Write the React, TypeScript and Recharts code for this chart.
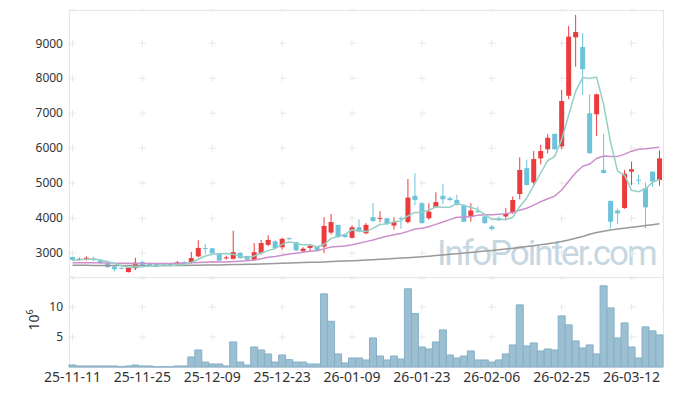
import React from "react";
import { ComposedChart, BarChart, Bar, Line, XAxis, YAxis, CartesianGrid } from "recharts";

const dates = [
  "25-11-11", "25-11-12", "25-11-13", "25-11-14", "25-11-17", "25-11-18", "25-11-19", "25-11-20", "25-11-21", "25-11-24",
  "25-11-25", "25-11-26", "25-11-27", "25-11-28", "25-12-01", "25-12-02", "25-12-03", "25-12-04", "25-12-05", "25-12-08",
  "25-12-09", "25-12-10", "25-12-11", "25-12-12", "25-12-15", "25-12-16", "25-12-17", "25-12-18", "25-12-19", "25-12-22",
  "25-12-23", "25-12-24", "25-12-26", "25-12-29", "25-12-30", "26-01-02", "26-01-05", "26-01-06", "26-01-07", "26-01-08",
  "26-01-09", "26-01-12", "26-01-13", "26-01-14", "26-01-15", "26-01-16", "26-01-19", "26-01-20", "26-01-21", "26-01-22",
  "26-01-23", "26-01-26", "26-01-27", "26-01-28", "26-01-29", "26-01-30", "26-02-02", "26-02-03", "26-02-04", "26-02-05",
  "26-02-06", "26-02-09", "26-02-10", "26-02-11", "26-02-12", "26-02-13", "26-02-19", "26-02-20", "26-02-23", "26-02-24",
  "26-02-25", "26-02-26", "26-02-27", "26-03-03", "26-03-04", "26-03-05", "26-03-06", "26-03-09", "26-03-10", "26-03-11",
  "26-03-12", "26-03-13", "26-03-16", "26-03-17", "26-03-18",
];

const opens = [
  2890, 2820, 2820, 2850, 2800, 2720, 2620, 2580, 2460, 2570,
  2750, 2710, 2690, 2680, 2690, 2680, 2740, 2740, 2910, 3150,
  3140, 3000, 2850, 2840, 3010, 2920, 2810, 3000, 3240, 3340,
  3170, 3430, 3320, 3060, 3150, 3200, 3190, 3590, 3810, 3540,
  3440, 3740, 3570, 4030, 3990, 4000, 3790, 4010, 3890, 4640,
  4430, 4000, 4310, 4640, 4570, 4520, 4380, 4030, 4200, 4050,
  3760, 4000, 4050, 4170, 4690, 5430, 5020, 5710, 5970, 6410,
  6050, 7500, 9170, 8890, 7000, 6970, 5380, 4490, 4220, 4290,
  5330, 5100, 4860, 5330, 5090,
];

const highs = [
  2900, 2870, 2910, 2900, 2820, 2730, 2640, 2600, 2600, 2870,
  2790, 2740, 2700, 2700, 2720, 2780, 2780, 3040, 3370, 3260,
  3150, 3000, 2930, 3640, 3030, 2930, 3290, 3380, 3510, 3370,
  3440, 3450, 3330, 3170, 3230, 3210, 4030, 4120, 3810, 3560,
  3800, 3970, 3860, 4430, 4200, 4010, 4030, 4050, 5120, 5290,
  4460, 4430, 4740, 4990, 4620, 4670, 4400, 4430, 4330, 4080,
  3800, 4050, 4290, 4620, 5740, 5670, 5920, 6100, 6400, 6420,
  7670, 9490, 9810, 9290, 7540, 7560, 6410, 4510, 4270, 5380,
  5620, 5240, 5020, 5340, 5940,
];

const lows = [
  2790, 2790, 2790, 2780, 2700, 2580, 2480, 2540, 2450, 2520,
  2620, 2630, 2600, 2620, 2630, 2660, 2700, 2700, 2880, 2970,
  2990, 2780, 2820, 2820, 2840, 2790, 2780, 2960, 3200, 3130,
  3100, 3380, 3070, 3010, 3060, 3060, 3000, 3540, 3440, 3440,
  3420, 3600, 3540, 3880, 3880, 3820, 3670, 3700, 3850, 4370,
  3850, 3950, 4290, 4410, 4480, 4360, 3880, 3900, 4150, 3840,
  3650, 3920, 3940, 4120, 4540, 4930, 4940, 5540, 5850, 5960,
  5980, 7400, 8330, 7520, 5840, 6350, 5280, 3710, 3840, 4270,
  4950, 4960, 3710, 4890, 4930,
];

const closes = [
  2810, 2840, 2870, 2800, 2710, 2600, 2540, 2560, 2590, 2730,
  2640, 2650, 2610, 2660, 2670, 2740, 2720, 2860, 3150, 3130,
  3000, 2790, 2880, 3030, 2860, 2810, 3030, 3290, 3380, 3150,
  3410, 3400, 3080, 3130, 3210, 3080, 3780, 3890, 3460, 3460,
  3740, 3620, 3810, 3920, 4010, 3830, 3900, 3990, 4590, 4520,
  3860, 4190, 4460, 4540, 4520, 4380, 3900, 4220, 4180, 3860,
  3690, 3940, 4120, 4520, 5380, 4950, 5690, 5920, 6300, 5970,
  7350, 9190, 9320, 8260, 5860, 7540, 5290, 3900, 4140, 5270,
  5400, 5090, 4310, 5050, 5710,
];

const ma5 = [
  2800, 2810, 2830, 2835, 2806, 2764, 2704, 2642, 2600, 2604,
  2612, 2634, 2644, 2658, 2646, 2666, 2680, 2730, 2828, 2920,
  2972, 2986, 2990, 2966, 2912, 2874, 2922, 3004, 3074, 3132,
  3252, 3326, 3284, 3234, 3246, 3180, 3256, 3418, 3484, 3534,
  3666, 3634, 3618, 3710, 3820, 3838, 3894, 3930, 4064, 4166,
  4172, 4230, 4324, 4314, 4314, 4418, 4360, 4312, 4240, 4108,
  3970, 3978, 3958, 4026, 4330, 4582, 4932, 5292, 5648, 5766,
  6246, 6946, 7626, 8018, 7996, 8034, 7254, 6170, 5346, 5228,
  4800, 4760, 4842, 5024, 5112,
];

const ma20 = [
  2730, 2730, 2728, 2726, 2724, 2720, 2716, 2712, 2710, 2708,
  2706, 2705, 2704, 2704, 2706, 2710, 2716, 2724, 2736, 2744,
  2754, 2751, 2752, 2763, 2771, 2781, 2806, 2842, 2882, 2903,
  2941, 2979, 3002, 3026, 3053, 3070, 3123, 3174, 3190, 3206,
  3243, 3285, 3331, 3376, 3433, 3484, 3528, 3563, 3623, 3692,
  3714, 3754, 3823, 3893, 3959, 4024, 4030, 4046, 4082, 4102,
  4100, 4116, 4131, 4161, 4230, 4286, 4375, 4472, 4557, 4630,
  4804, 5054, 5297, 5483, 5550, 5708, 5778, 5762, 5760, 5830,
  5916, 5973, 5983, 6009, 6026,
];

const ma60 = [
  2655, 2654, 2653, 2652, 2651, 2650, 2649, 2648, 2647, 2646,
  2645, 2645, 2646, 2647, 2648, 2650, 2652, 2654, 2657, 2660,
  2663, 2666, 2670, 2674, 2678, 2682, 2687, 2692, 2698, 2704,
  2710, 2717, 2724, 2731, 2738, 2745, 2752, 2760, 2768, 2776,
  2785, 2795, 2805, 2815, 2826, 2837, 2848, 2860, 2872, 2885,
  2898, 2915, 2932, 2950, 2968, 2986, 3004, 3022, 3040, 3060,
  3080, 3100, 3120, 3140, 3165, 3190, 3215, 3240, 3270, 3300,
  3335, 3380, 3430, 3480, 3540, 3590, 3630, 3660, 3690, 3715,
  3740, 3765, 3790, 3815, 3840,
];

// volume in millions of shares
const volumes = [
  0.33, 0.17, 0.17, 0.17, 0.17, 0.17, 0.17, 0.05, 0.17, 0.33,
  0.17, 0.17, 0.03, 0.03, 0.03, 0.17, 0.17, 1.67, 2.83, 0.83,
  0.5, 0.5, 0.17, 4.17, 0.83, 0.33, 3.33, 2.83, 2.17, 0.83,
  2.0, 1.22, 0.83, 0.83, 0.5, 0.5, 12.17, 7.6, 2.17, 0.67,
  1.5, 1.5, 1.17, 4.83, 1.83, 1.17, 1.83, 1.33, 13.0, 8.9,
  3.33, 3.0, 4.17, 6.17, 2.0, 1.5, 1.83, 2.67, 1.17, 1.17,
  0.83, 1.17, 2.17, 3.67, 10.33, 3.5, 4.0, 2.67, 3.0, 2.83,
  8.5, 7.0, 4.33, 3.17, 3.67, 2.17, 13.5, 9.83, 4.83, 7.33,
  3.33, 1.5, 6.67, 6.0, 5.33,
];

const labelDates = ["25-11-11", "25-11-25", "25-12-09", "25-12-23", "26-01-09", "26-01-23", "26-02-06", "26-02-25", "26-03-12"];
const priceTicks = [3000, 4000, 5000, 6000, 7000, 8000, 9000];
const volumeTicks = [5, 10];

const rows = dates.map((date, i) => ({
  date,
  open: opens[i],
  high: highs[i],
  low: lows[i],
  close: closes[i],
  ma5: ma5[i],
  ma20: ma20[i],
  ma60: ma60[i],
  volume: volumes[i],
}));

const UP = "#ec3b3d";
const DOWN = "#6dc3da";
const GRID = "#e8e8e8";
const BORDER = "#e6e6e6";
const FONT = "'Noto Sans', sans-serif";

function Candle(props: any) {
  const { x, y, width, height, payload } = props;
  const { open, close, high, low } = payload;
  const color = close >= open ? UP : DOWN;
  const k = height / (high - low);
  const top = y + (high - Math.max(open, close)) * k;
  const h = Math.max(1, Math.abs(close - open) * k);
  const cx = x + width / 2;
  return (
    <g>
      <line x1={cx} x2={cx} y1={y} y2={y + height} stroke={color} strokeWidth={1} />
      <rect x={x} y={top} width={width} height={h} fill={color} />
    </g>
  );
}

// grid drawn as small "+" marks at the intersections
const hMarks = (p: any) => (
  <line key={p.key ?? `h-${p.index}`} x1={p.x1} y1={p.y1} x2={p.x2} y2={p.y2} stroke={GRID} strokeDasharray="7 63" />
);
const vMarks = (period: number, offset: number) => (p: any) => (
  <line
    key={p.key ?? `v-${p.index}`}
    x1={p.x1}
    y1={p.y1}
    x2={p.x2}
    y2={p.y2}
    stroke={GRID}
    strokeDasharray={`7 ${period - 7}`}
    strokeDashoffset={offset}
  />
);

const tickStyle = { fontSize: 12, fill: "#333", fontFamily: FONT };

export default function App() {
  return (
    <div style={{ position: "absolute", left: 0, top: 0, width: 673, height: 396, background: "#fff" }}>
      <div style={{ position: "absolute", left: 69, top: 10, width: 593, height: 356, border: `1px solid ${BORDER}` }} />
      <div style={{ position: "absolute", left: 69, top: 277, width: 594, borderTop: `1px solid ${BORDER}` }} />
      <div
        style={{
          position: "absolute",
          left: 437,
          top: 233,
          fontFamily: "Roboto, sans-serif",
          fontSize: 35,
          letterSpacing: -2,
          color: "#c6d7e2",
          whiteSpace: "nowrap",
        }}
      >
        InfoPointer.com
      </div>

      <div style={{ position: "absolute", left: 0, top: 0 }}>
        <ComposedChart width={673} height={278} data={rows} margin={{ top: 10, right: 10, bottom: 1, left: 0 }}>
          <CartesianGrid horizontal={hMarks} vertical={vMarks(35, 5.2)} />
          <XAxis dataKey="date" hide ticks={labelDates} interval={0} />
          <YAxis
            domain={[2320, 9950]}
            ticks={priceTicks}
            width={69}
            axisLine={false}
            tickLine={false}
            tickSize={6}
            tickMargin={0}
            tick={tickStyle}
            allowDataOverflow
          />
          <Bar dataKey={(d: any) => [d.low, d.high]} barSize={5} shape={<Candle />} isAnimationActive={false} />
          <Line dataKey="ma60" type="linear" stroke="#999999" strokeWidth={1.5} dot={false} isAnimationActive={false} />
          <Line dataKey="ma20" type="linear" stroke="#cc8fcb" strokeWidth={1.5} dot={false} isAnimationActive={false} />
          <Line dataKey="ma5" type="linear" stroke="#93d0c7" strokeWidth={1.5} dot={false} isAnimationActive={false} />
        </ComposedChart>
      </div>

      <div style={{ position: "absolute", left: 0, top: 277 }}>
        <BarChart
          width={673}
          height={118}
          data={rows}
          margin={{ top: 1, right: 10, bottom: 0, left: 0 }}
          barCategoryGap={0}
          barGap={0}
        >
          <CartesianGrid horizontal={hMarks} vertical={vMarks(30, 4.5)} />
          <XAxis
            dataKey="date"
            ticks={labelDates}
            interval={0}
            height={28}
            axisLine={false}
            tickLine={false}
            tickSize={0}
            tickMargin={5}
            tick={{ fontSize: 14, fill: "#333", fontFamily: FONT }}
          />
          <YAxis
            domain={[0, 14.8]}
            ticks={volumeTicks}
            width={69}
            axisLine={false}
            tickLine={false}
            tickSize={6}
            tickMargin={0}
            tick={tickStyle}
          />
          <Bar dataKey="volume" fill="#9cc0d2" stroke="#86afc7" strokeWidth={1} isAnimationActive={false} />
        </BarChart>
      </div>

      <div
        style={{
          position: "absolute",
          left: 33,
          top: 320,
          transform: "translate(-50%, -50%) rotate(-90deg)",
          fontSize: 14,
          fontFamily: FONT,
          color: "#333",
          whiteSpace: "nowrap",
          lineHeight: 1,
        }}
      >
        10<sup style={{ fontSize: 9 }}>6</sup>
      </div>
    </div>
  );
}
